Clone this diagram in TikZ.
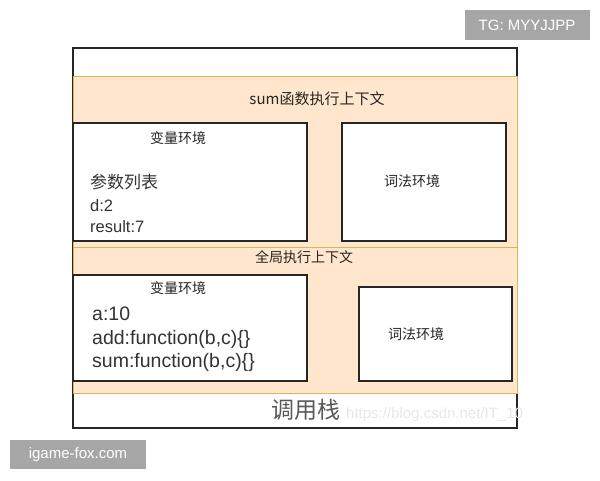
\documentclass[tikz,border=0pt]{standalone}
\usepackage{fontspec}
\setmainfont{Liberation Sans}
\newfontfamily\cjk{Noto Sans CJK SC}
\definecolor{peach}{HTML}{FFE6CC}
\definecolor{peachline}{HTML}{D6B656}
\definecolor{txt}{HTML}{333333}
\definecolor{wm}{HTML}{A6A6A6}
\begin{document}
\begin{tikzpicture}[x=1pt,y=-1pt,
  box/.style={draw=black!85,line width=1.1pt,fill=white},
  ctx/.style={draw=peachline,line width=1pt,fill=peach},
  lbl/.style={inner sep=0pt,text=black!85,font=\cjk\fontsize{14}{16}\selectfont},
  sval/.style={inner sep=0pt,anchor=base west,text=txt,font=\fontsize{16.5}{20}\selectfont},
  gval/.style={inner sep=0pt,anchor=base west,text=txt,font=\fontsize{19.5}{23}\selectfont},
  wmbox/.style={fill=wm,text=white,inner sep=0pt,font=\fontsize{15}{17}\selectfont}]
\useasboundingbox (0,0) rectangle (600,480);
% outer call stack box
\draw[box] (73,48) rectangle (517,428);
% contexts
\draw[ctx] (73,76) rectangle (517,247);
\draw[ctx] (73,247) rectangle (517,393);
% sum context
\node[lbl,font=\cjk\fontsize{15}{17}\selectfont] (sumctx) at (317,99) {sum函数执行上下文};
\draw[box] (73,123) rectangle (307,241);
\draw[box] (342,123) rectangle (506,241);
\node[lbl] (sumvar) at (178,138) {变量环境};
\node[sval,font=\cjk\fontsize{17}{20}\selectfont] (sump) at (90,188) {参数列表};
\node[sval] (sumd) at (90,211) {d:2};
\node[sval] (sumr) at (90,232) {result:7};
\node[lbl] (sumlex) at (412,181) {词法环境};
% global context
\node[lbl] (gctx) at (304,257) {全局执行上下文};
\draw[box] (73,275) rectangle (307,381);
\draw[box] (359,287) rectangle (512,381);
\node[lbl] (gvar) at (178,288) {变量环境};
\node[gval] (ga) at (92,320) {a:10};
\node[gval] (gadd) at (92,344) {add:function(b,c)\{\}};
\node[gval] (gsum) at (92,367) {sum:function(b,c)\{\}};
\node[lbl] (glex) at (416,334) {词法环境};
% call stack label
\node[inner sep=0pt,text=black!65,font=\cjk\fontsize{23}{25}\selectfont] (stack) at (306,410) {调用栈};
\node[inner sep=0pt,anchor=west,text=black!9,font=\fontsize{15}{17}\selectfont] (csdn) at (346,415) {https://blog.csdn.net/IT\_10};
% watermarks
\node[wmbox,minimum width=125pt,minimum height=30pt] (tg) at (527,25) {TG: MYYJJPP};
\node[wmbox,minimum width=136pt,minimum height=29pt] (ig) at (78,454.5) {igame-fox.com};
\end{tikzpicture}
\end{document}
